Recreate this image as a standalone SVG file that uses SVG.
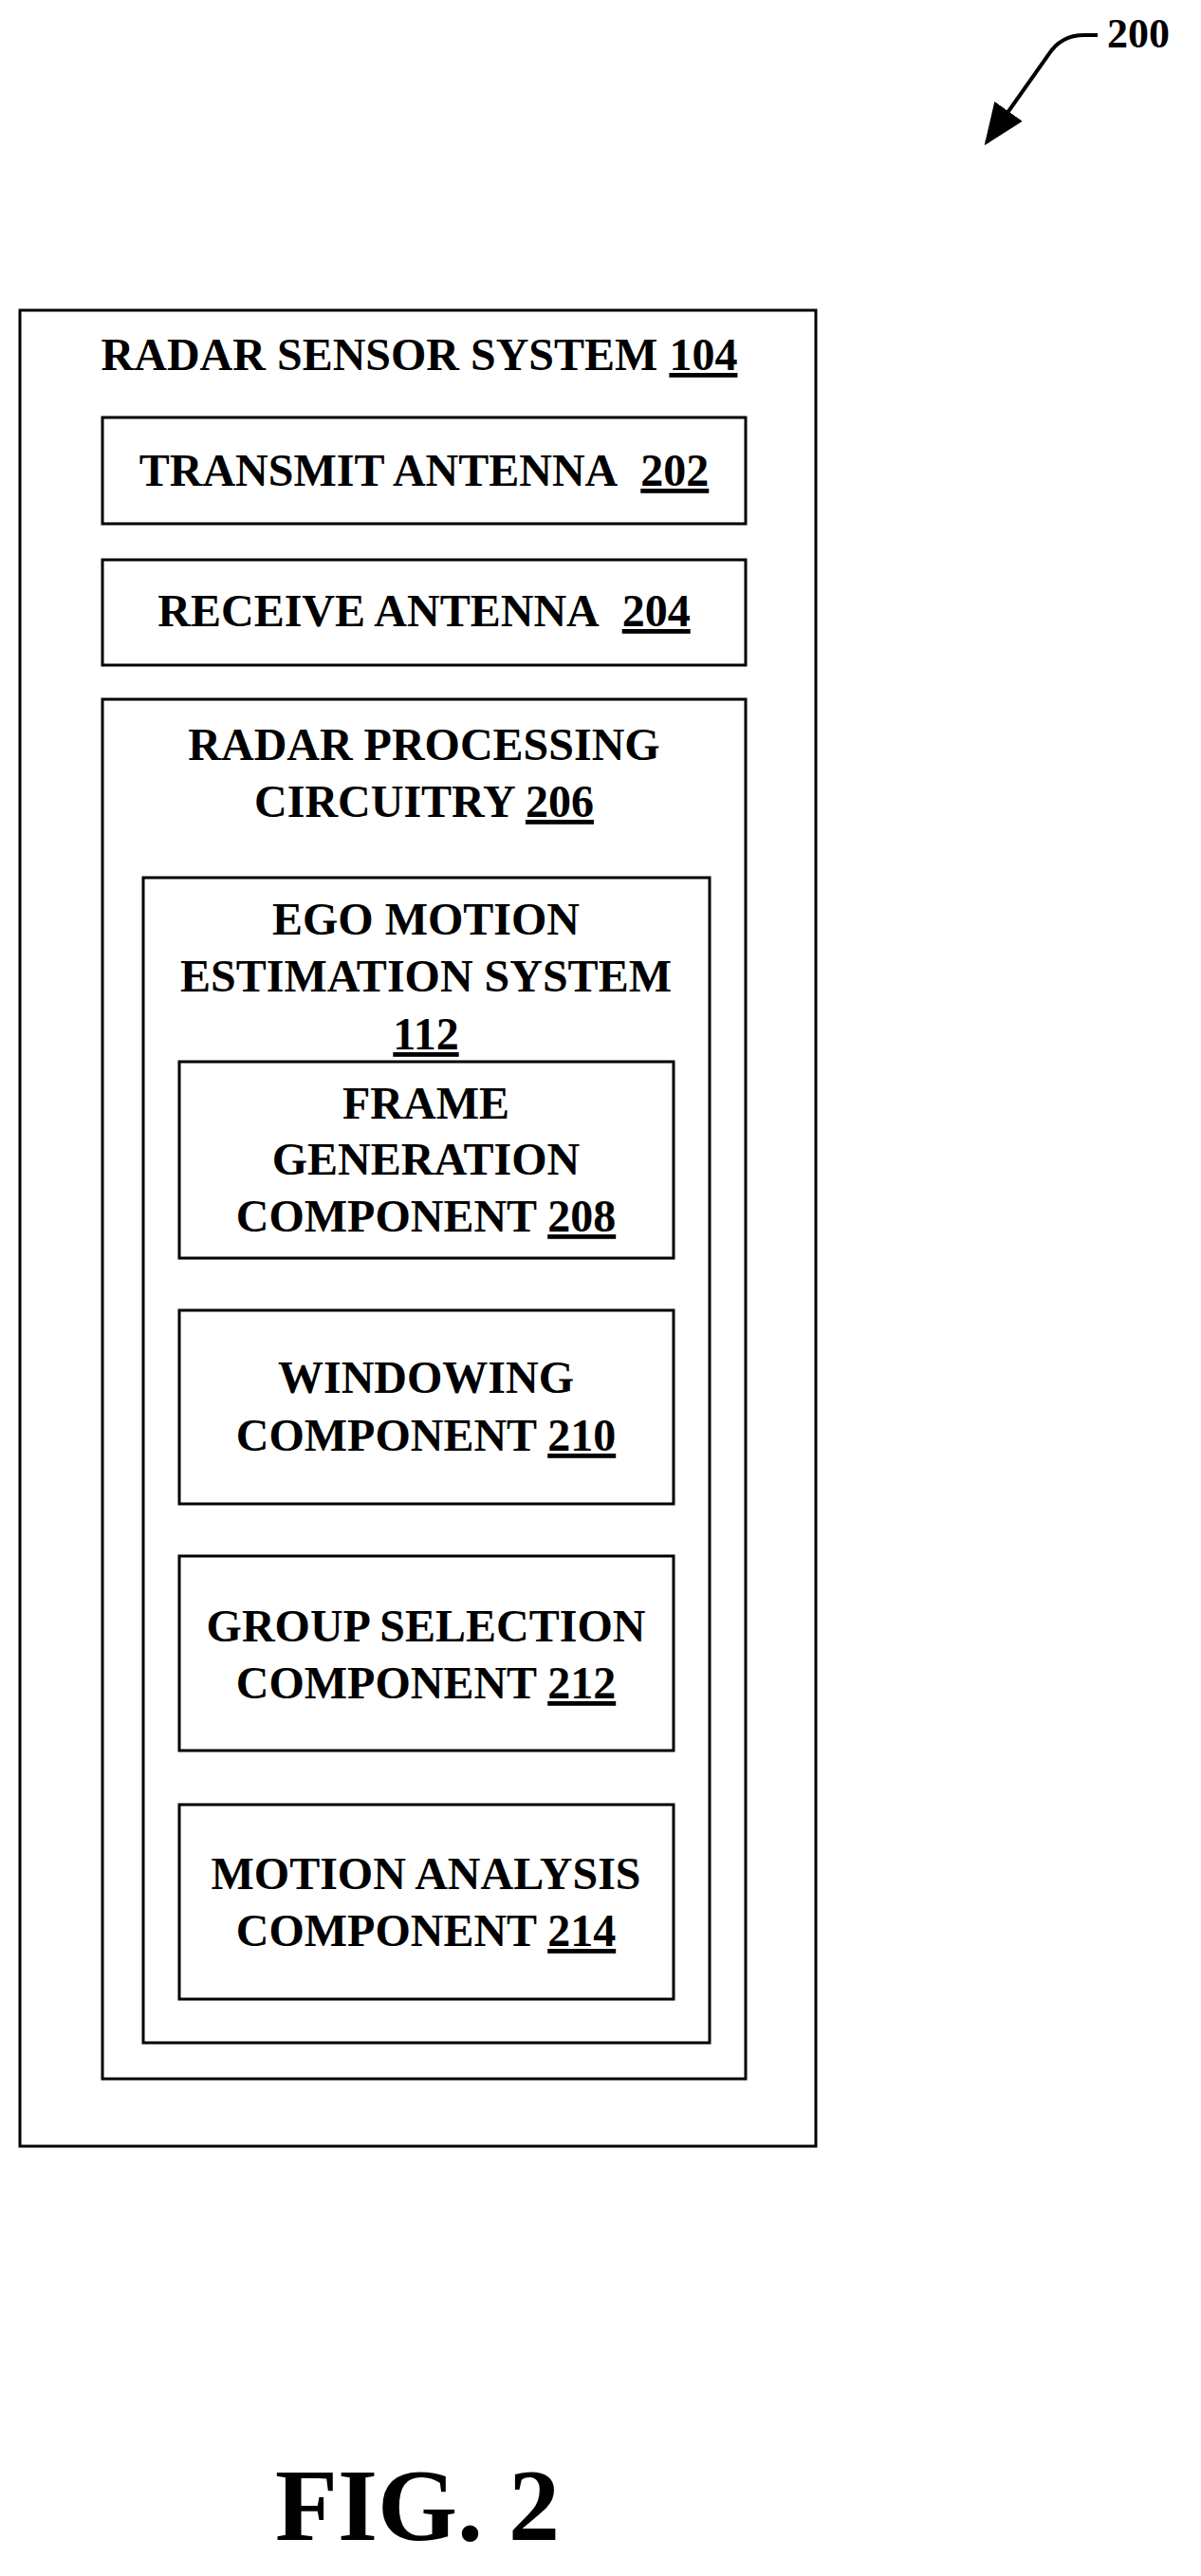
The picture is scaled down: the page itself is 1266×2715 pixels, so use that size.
<svg xmlns="http://www.w3.org/2000/svg" width="1266" height="2715" viewBox="0 0 1266 2715">
<style>
rect{fill:none;stroke:#000;stroke-width:3}
text{font-family:"Liberation Serif",serif;font-weight:bold;font-size:48px;text-anchor:middle;fill:#000}
.u{text-decoration:underline}
</style>
<defs><marker id="ah" markerWidth="44" markerHeight="36" refX="40" refY="18" orient="auto" markerUnits="userSpaceOnUse" viewBox="0 0 44 36"><path d="M0,0 L44,18 L0,36 z"/></marker></defs>
<rect width="1266" height="2715" style="fill:#fff;stroke:none"/>
<g id="outer"><rect x="21" y="327" width="839" height="1935"/><text x="442" y="390">RADAR SENSOR SYSTEM <tspan class="u">104</tspan></text></g>
<g id="tx"><rect x="108" y="440" width="678" height="112"/><text x="447" y="512">TRANSMIT ANTENNA&#160; <tspan class="u">202</tspan></text></g>
<g id="rx"><rect x="108" y="590" width="678" height="111"/><text x="447" y="660">RECEIVE ANTENNA&#160; <tspan class="u">204</tspan></text></g>
<g id="rpc"><rect x="108" y="737" width="678" height="1454"/><text x="447" y="801">RADAR PROCESSING</text><text x="447" y="861">CIRCUITRY <tspan class="u">206</tspan></text></g>
<g id="ego"><rect x="151" y="925" width="597" height="1228"/><text x="449" y="985">EGO MOTION</text><text x="449" y="1045">ESTIMATION SYSTEM</text><text x="449" y="1106" class="u">112</text></g>
<g id="fg"><rect x="189" y="1119" width="521" height="207"/><text x="449" y="1179">FRAME</text><text x="449" y="1238">GENERATION</text><text x="449" y="1298">COMPONENT <tspan class="u">208</tspan></text></g>
<g id="win"><rect x="189" y="1381" width="521" height="204"/><text x="449" y="1468">WINDOWING</text><text x="449" y="1529">COMPONENT <tspan class="u">210</tspan></text></g>
<g id="grp"><rect x="189" y="1640" width="521" height="205"/><text x="449" y="1730">GROUP SELECTION</text><text x="449" y="1790">COMPONENT <tspan class="u">212</tspan></text></g>
<g id="mot"><rect x="189" y="1902" width="521" height="205"/><text x="449" y="1991">MOTION ANALYSIS</text><text x="449" y="2051">COMPONENT <tspan class="u">214</tspan></text></g>
<g id="connectors"><path d="M1157,37 L1143,37 Q1118,37 1105,58 L1040,150" fill="none" stroke="#000" stroke-width="4" marker-end="url(#ah)"/></g>
<g id="labels"><text x="1200" y="50" style="font-size:44px">200</text><text x="440" y="2677" style="font-size:108px">FIG. 2</text></g>
</svg>
